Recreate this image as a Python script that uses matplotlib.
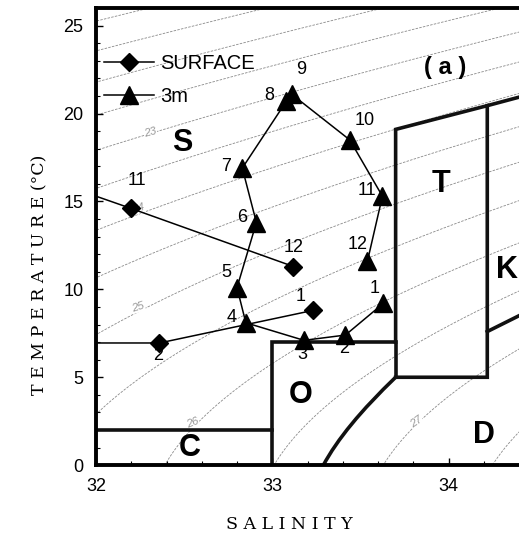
import numpy as np
import matplotlib.pyplot as plt
from matplotlib.path import Path
from matplotlib.patches import PathPatch

plt.rcParams['font.family'] = ['Liberation Sans', 'DejaVu Sans']

# monthly T-S at 3 m (Jan..Dec)
months_3m = ['1', '2', '3', '4', '5', '6', '7', '8', '9', '10', '11', '12']
sal_3m = [33.63, 33.415, 33.18, 32.85, 32.80, 32.91, 32.83, 33.08, 33.11, 33.44, 33.625, 33.54]
temp_3m = [9.2, 7.4, 7.1, 8.1, 10.1, 13.8, 16.9, 20.7, 21.1, 18.5, 15.3, 11.6]

# surface: two pieces (Oct-Dec, Jan-Mar); Oct and Mar fall left of 32
months_sfc_a = ['10', '11', '12']
sal_sfc_a = [31.8, 32.20, 33.12]
temp_sfc_a = [16.0, 14.6, 11.3]
months_sfc_b = ['1', '2', '3']
sal_sfc_b = [33.23, 32.36, 31.8]
temp_sfc_b = [8.8, 6.95, 6.95]

# water mass boundaries
bound_c = ([32.0, 33.0], [2.0, 2.0])
bound_o = ([33.0, 33.0, 33.7, 33.7], [0.0, 7.0, 7.0, 5.0])
bound_t = ([33.7, 33.7, 34.22, 34.22, 33.7], [7.0, 19.1, 20.45, 5.0, 5.0])
bound_top = ([34.22, 34.5], [20.45, 21.2])
bound_k = ([34.22, 34.5], [7.6, 9.0])
bound_d = [(33.7, 5.0), (33.406, 2.18), (33.29, 0.0)]

region_names = ['S', 'T', 'K', 'O', 'D', 'C']
region_sal = [32.49, 33.96, 34.33, 33.16, 34.2, 32.53]
region_temp = [18.3, 16.0, 11.1, 4.0, 1.7, 1.0]

sigma_levels = np.arange(19.0, 28.0, 0.5)
sigma_labels = [23, 24, 25, 26, 27]
sigma_label_pos = [(32.31, 18.9), (32.24, 14.6), (32.24, 9.0), (32.55, 2.4), (33.82, 2.45)]
sigma_label_rot = [15, 15, 18, 22, 35]

# label offsets (points)
off_3m = [(-6, 11), (-1, -10), (-1, -10), (-10, 4), (-8, 11), (-10, 4), (-12, 1),
          (-12, 4), (7, 18), (11, 14), (-11, 4), (-7, 12)]
off_sfc_a = [(0, 0), (4, 20), (0, 14)]
off_sfc_b = [(-9, 10), (-1, -9), (0, 0)]


def sigma_t(s, t):
    rw = (999.842594 + 6.793952e-2 * t - 9.095290e-3 * t**2 + 1.001685e-4 * t**3
          - 1.120083e-6 * t**4 + 6.536332e-9 * t**5)
    a = 0.824493 - 4.0899e-3 * t + 7.6438e-5 * t**2 - 8.2467e-7 * t**3 + 5.3875e-9 * t**4
    b = -5.72466e-3 + 1.0227e-4 * t - 1.6546e-6 * t**2
    return rw + a * s + b * s**1.5 + 4.8314e-4 * s**2 - 1000.0


fig = plt.figure(figsize=(5.19, 5.39), dpi=100)
ax = fig.add_axes([0.185, 0.137, 0.815, 0.848])

ss, tt = np.meshgrid(np.linspace(31.5, 34.6, 200), np.linspace(-1, 27, 200))
sig = sigma_t(ss, tt)
ax.contour(ss, tt, sig, levels=sigma_levels, colors='#8a8a8a',
           linewidths=0.6, linestyles=[(0, (3, 1.5))], zorder=1)
for lev, (xs, ys), rot in zip(sigma_labels, sigma_label_pos, sigma_label_rot):
    ax.text(xs, ys, str(lev), fontsize=8, color='#9a9a9a', style='italic',
            ha='center', va='center', rotation=rot, zorder=1.2,
            bbox=dict(fc='white', ec='none', pad=0.2))

lw_b = 2.6
for bx, by in [bound_c, bound_o, bound_t, bound_top, bound_k]:
    ax.plot(bx, by, color='#111111', lw=lw_b, solid_joinstyle='miter', zorder=2)
ax.add_patch(PathPatch(Path(bound_d, [Path.MOVETO, Path.CURVE3, Path.CURVE3]),
                       fc='none', ec='#111111', lw=lw_b, zorder=2))

for name, xs, ys in zip(region_names, region_sal, region_temp):
    ax.text(xs, ys, name, fontsize=22, fontweight='bold', ha='center', va='center')
ax.text(33.98, 22.6, '( a )', fontsize=17, fontweight='bold', ha='center', va='center')

ax.plot(sal_sfc_a, temp_sfc_a, color='black', lw=1.1, marker='D', ms=8.8,
        label='SURFACE', zorder=3)
ax.plot(sal_sfc_b, temp_sfc_b, color='black', lw=1.1, marker='D', ms=8.8, zorder=3)
ax.plot(sal_3m, temp_3m, color='black', lw=1.1, marker='^', ms=12.5, label='3m',
        zorder=3)

for labs, xs, ys, offs in [(months_3m, sal_3m, temp_3m, off_3m),
                           (months_sfc_a, sal_sfc_a, temp_sfc_a, off_sfc_a),
                           (months_sfc_b, sal_sfc_b, temp_sfc_b, off_sfc_b)]:
    for lab, x, y, o in zip(labs, xs, ys, offs):
        if x < 32:
            continue
        ax.annotate(lab, (x, y), xytext=o, textcoords='offset points',
                    fontsize=13, ha='center', va='center')

leg = ax.legend(loc='upper left', bbox_to_anchor=(-0.025, 0.94), frameon=False,
                handlelength=2.5, handletextpad=0.3, fontsize=14.5, labelspacing=0.7)

ax.set_xlim(32, 34.4)
ax.set_ylim(0, 26)
ax.set_xticks([32, 33, 34])
ax.set_yticks([0, 5, 10, 15, 20, 25])
ax.set_xticks(np.arange(32, 34.4, 0.2), minor=True)
ax.set_yticks(np.arange(0, 26, 1), minor=True)
ax.tick_params(direction='in', labelsize=13, length=5, width=1, pad=9)
ax.tick_params(which='minor', direction='in', length=3, width=0.8)
ax.spines['right'].set_visible(False)
for sp in ['left', 'bottom', 'top']:
    ax.spines[sp].set_linewidth(2.8)

ax.set_xlabel('S A L I N I T Y', family='DejaVu Serif', fontsize=12.5)
ax.set_ylabel('T E M P E R A T U R E (°C)', family='DejaVu Serif', fontsize=12.5)
ax.xaxis.set_label_coords(0.456, -0.112)
ax.yaxis.set_label_coords(-0.112, 0.416)

fig.savefig('out.png', dpi=100)
